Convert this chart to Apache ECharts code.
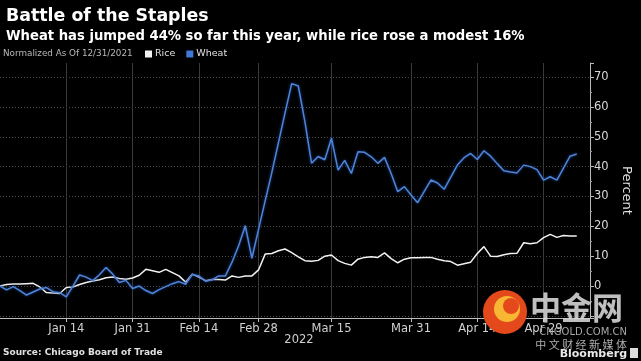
<!DOCTYPE html>
<html>
<head>
<meta charset="utf-8">
<script src="https://cdn.jsdelivr.net/npm/echarts@6/dist/echarts.min.js"></script>
<style>
html,body{margin:0;padding:0;background:#000;}
#chart{width:641px;height:361px;}
</style>
</head>
<body>
<div id="chart"></div>
<script>
const dates = ['Dec 31','Jan 3','Jan 4','Jan 5','Jan 6','Jan 7','Jan 10','Jan 11','Jan 12','Jan 13','Jan 14','Jan 18','Jan 19','Jan 20','Jan 21','Jan 24','Jan 25','Jan 26','Jan 27','Jan 28','Jan 31','Feb 1','Feb 2','Feb 3','Feb 4','Feb 7','Feb 8','Feb 9','Feb 10','Feb 11','Feb 14','Feb 15','Feb 16','Feb 17','Feb 18','Feb 22','Feb 23','Feb 24','Feb 25','Feb 28','Mar 1','Mar 2','Mar 3','Mar 4','Mar 7','Mar 8','Mar 9','Mar 10','Mar 11','Mar 14','Mar 15','Mar 16','Mar 17','Mar 18','Mar 21','Mar 22','Mar 23','Mar 24','Mar 25','Mar 28','Mar 29','Mar 30','Mar 31','Apr 1','Apr 4','Apr 5','Apr 6','Apr 7','Apr 8','Apr 11','Apr 12','Apr 13','Apr 14','Apr 18','Apr 19','Apr 20','Apr 21','Apr 22','Apr 25','Apr 26','Apr 27','Apr 28','Apr 29','May 2','May 3','May 4','May 5','May 6','May 9','May 10'];

const tickDates = ['Jan 14','Jan 31','Feb 14','Feb 28','Mar 15','Mar 31','Apr 14','Apr 29'];

const rice = [0,0.5,0.7,0.7,0.8,0.9,-0.3,-2.2,-2.3,-2.5,-0.5,-0.3,0.5,1.2,1.7,2.1,2.8,3.0,2.5,2.3,2.7,3.6,5.6,5.1,4.6,5.6,4.5,3.4,1.3,4.0,3.0,1.8,2.2,2.2,2.0,3.4,2.9,3.4,3.4,5.4,10.7,10.9,11.8,12.4,11.2,9.8,8.5,8.3,8.6,10.0,10.4,8.5,7.6,7.0,9.0,9.6,9.8,9.6,11.1,9.2,7.8,9.0,9.5,9.5,9.6,9.6,9.0,8.5,8.2,7.0,7.5,8.0,10.9,13.2,10.0,9.9,10.5,10.9,11.0,14.5,14.2,14.5,16.2,17.3,16.3,16.9,16.8,16.8];

const wheat = [0,-1.3,-0.2,-1.5,-3.0,-2.0,-1.0,-0.5,-1.9,-2.2,-3.6,0,3.7,3.0,1.8,3.8,6.2,4.0,1.2,1.9,-0.8,0,-1.5,-2.5,-1.2,-0.2,0.8,1.5,0.6,3.9,3.4,1.6,2.1,3.4,3.4,8.0,13.5,20.2,9.3,19.0,28.5,38.0,48.0,58.0,67.8,67.0,55.0,41.1,43.4,42.3,49.5,38.8,42.1,37.7,45.0,44.8,43.3,41.1,43.1,37.7,31.6,33.3,30.5,27.9,31.7,35.5,34.5,32.4,36.5,40.5,43.0,44.4,42.4,45.3,43.5,41.0,38.6,38.2,37.9,40.5,40.0,39.0,35.5,36.6,35.5,39.5,43.5,44.2];

const yMin = -10.7, yMax = 74.7;

const chart = echarts.init(document.getElementById('chart'), null, {renderer: 'canvas'});
const isTick = (i, v) => tickDates.indexOf(v) >= 0;
const font = 'DejaVu Sans';

chart.setOption({
  backgroundColor: '#000',
  animation: false,
  textStyle: {fontFamily: font},
  title: [
    {text: 'Battle of the Staples', left: 1, top: 3,
     textStyle: {color: '#fff', fontSize: 17.4, fontWeight: 'bold', fontFamily: font}},
    {text: 'Wheat has jumped 44% so far this year, while rice rose a modest 16%', left: 1, top: 25,
     textStyle: {color: '#fff', fontSize: 13.2, fontWeight: 'bold', fontFamily: font}}
  ],
  legend: {
    left: 145, top: 49, padding: 0, itemWidth: 7, itemHeight: 7, itemGap: 11, icon: 'rect',
    textStyle: {color: '#e0e0e0', fontSize: 9.5, fontFamily: font, padding: [0,0,0,-2]},
    data: ['Rice', 'Wheat']
  },
  grid: {left: 0, right: 41, top: 63, bottom: 43},
  xAxis: {
    type: 'category', data: dates, boundaryGap: false,
    axisLine: {onZero: false, lineStyle: {color: '#bbb', width: 1}},
    axisTick: {show: true, interval: isTick, length: 4, lineStyle: {color: '#bbb'}},
    axisLabel: {interval: isTick, color: '#d0d0d0', fontSize: 11.5, margin: 5, fontFamily: font},
    splitLine: {show: true, interval: isTick, lineStyle: {color: '#3a3a3a', width: 1}}
  },
  yAxis: {
    type: 'value', position: 'right', min: yMin, max: yMax, splitNumber: 8,
    name: 'Percent', nameLocation: 'middle', nameRotate: -90, nameGap: 30,
    nameTextStyle: {color: '#e0e0e0', fontSize: 13, fontFamily: font},
    axisLine: {show: true, lineStyle: {color: '#bbb'}},
    axisTick: {show: true, length: 4, lineStyle: {color: '#bbb'}},
    minorTick: {show: true, splitNumber: 2, length: 2, lineStyle: {color: '#999'}},
    axisLabel: {color: '#d8d8d8', fontSize: 11.5, margin: 4, showMinLabel: false, showMaxLabel: false,
      fontFamily: font, formatter: v => (v < 0 ? '' : v)},
    splitLine: {show: true, showMinLine: false, showMaxLine: false,
      lineStyle: {color: '#4a4a4a', type: [1, 2], width: 1}}
  },
  series: [
    {name: 'Rice', type: 'line', data: rice, symbol: 'none', color: '#f2f2f2',
     lineStyle: {width: 1.5, color: '#f2f2f2'}, z: 3},
    {name: 'Wheat', type: 'line', data: wheat, symbol: 'none', color: '#3f7bd6',
     lineStyle: {width: 1.5, color: '#4f84d6', shadowBlur: 3, shadowColor: '#1c4390'}, z: 4}
  ],
  graphic: [
    {type: 'text', left: 3, top: 49, style: {text: 'Normalized As Of 12/31/2021', fill: '#b8b8b8', font: '8.8px "DejaVu Sans"'}},
    {type: 'text', x: 299, y: 340, style: {text: '2022', fill: '#d0d0d0', font: '11.5px "DejaVu Sans"', align: 'center', verticalAlign: 'middle'}},
    {type: 'text', left: 3, top: 348, style: {text: 'Source: Chicago Board of Trade', fill: '#e0e0e0', font: 'bold 9px "DejaVu Sans"'}},
    {type: 'circle', shape: {cx: 505, cy: 312, r: 22}, style: {fill: '#e4491b'}, z: 20},
    {type: 'circle', shape: {cx: 507, cy: 309, r: 13}, style: {fill: '#f7b733'}, z: 21},
    {type: 'circle', shape: {cx: 511, cy: 306, r: 8}, style: {fill: '#e4491b'}, z: 22},
    {type: 'text', x: 530, y: 292, style: {text: '中金网', fill: 'rgba(225,225,225,0.85)', font: 'bold 31px "Noto Sans CJK SC"'}, z: 20},
    {type: 'text', x: 627, y: 332, style: {text: 'CNGOLD.COM.CN', fill: '#a8a8a8', font: '10px "DejaVu Sans"', align: 'right', verticalAlign: 'middle'}, z: 20},
    {type: 'text', x: 627, y: 345, style: {text: '中 文 财 经 新 媒 体', fill: '#b0b0b0', font: '11px "Noto Sans CJK SC"', align: 'right', verticalAlign: 'middle'}, z: 20},
    {type: 'text', x: 627, y: 354, style: {text: 'Bloomberg', fill: '#e8e8e8', font: 'bold 11px "DejaVu Sans"', align: 'right', verticalAlign: 'middle'}, z: 20},
    {type: 'rect', shape: {x: 630, y: 348, width: 8, height: 10}, style: {fill: '#ddd'}, z: 20}
  ]
});
</script>
</body>
</html>
